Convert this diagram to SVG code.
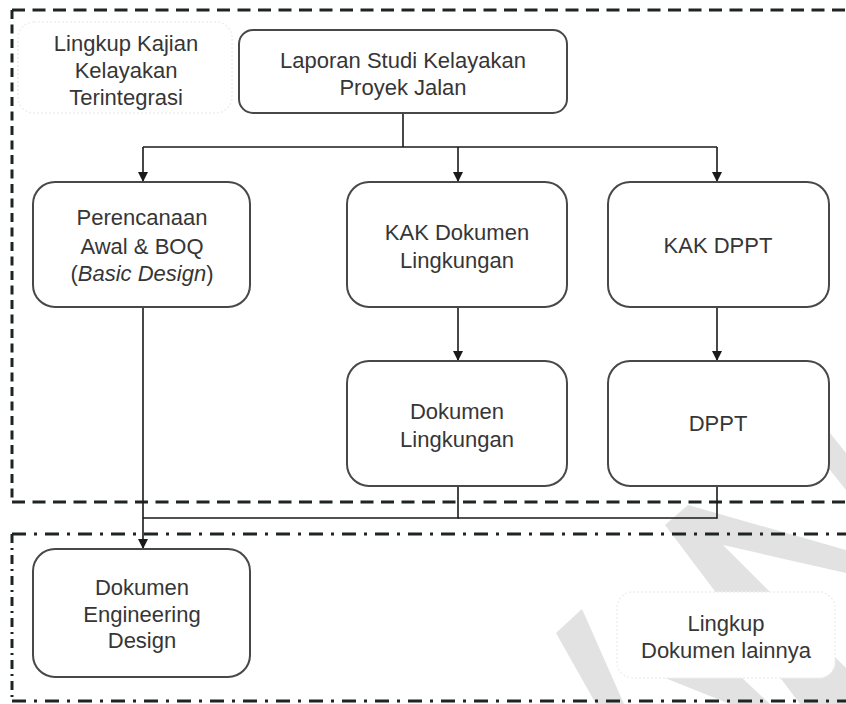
<svg xmlns="http://www.w3.org/2000/svg" width="846" height="704" viewBox="0 0 846 704">
  <defs>
    <marker id="arrow" viewBox="0 0 10 10" refX="10" refY="5" markerWidth="10" markerHeight="11" markerUnits="userSpaceOnUse" orient="auto">
      <path d="M0,0 L10,5 L0,10 z" fill="#1a1a1a"/>
    </marker>
  </defs>
  <style>
    .node rect { fill: #ffffff; stroke: #484848; stroke-width: 2; }
    .scope rect { fill: #ffffff; stroke: #efefef; stroke-width: 1.5; stroke-dasharray: 2 2; }
    text { font-family: "Liberation Sans", Arial, sans-serif; font-size: 22px; fill: #363636; text-anchor: middle; }
    .wire { fill: none; stroke: #1a1a1a; stroke-width: 1.6; }
    .dash { fill: none; stroke: #1e2424; stroke-width: 3; }
    .wm { fill: #e2e2e2; }
  </style>

  <rect width="846" height="704" fill="#ffffff"/>

  <!-- background mark -->
  <g id="mark">
    <polygon class="wm" points="665,525 688,505 846,550 846,573 723,545 846,668 846,704 800,704"/>
    <polygon class="wm" points="790,383 846,453 846,490 790,420"/>
    <polygon class="wm" points="556,633 582,609 624,704 596,704"/>
    <polygon class="wm" points="660,676 740,676 770,704 730,704"/>
  </g>

  <!-- scope frames -->
  <g id="frames">
    <line class="dash" x1="12" y1="10" x2="846" y2="10" stroke-dasharray="13 7.5"/>
    <line class="dash" x1="12" y1="502" x2="846" y2="502" stroke-dasharray="13 7.5"/>
    <line class="dash" x1="12" y1="10" x2="12" y2="502" stroke-dasharray="9 5.5"/>
    <line class="dash" x1="12" y1="534" x2="846" y2="534" stroke-dasharray="14 8 3 8"/>
    <line class="dash" x1="12" y1="701" x2="846" y2="701" stroke-dasharray="14 8 3 8"/>
    <line class="dash" x1="12" y1="534" x2="12" y2="701" stroke-dasharray="9 5 2 5"/>
  </g>

  <!-- connectors -->
  <g id="connectors">
    <path class="wire" d="M403,113 V147"/>
    <path class="wire" d="M143,147 H717"/>
    <path class="wire" d="M143,147 V182" marker-end="url(#arrow)"/>
    <path class="wire" d="M458,147 V182" marker-end="url(#arrow)"/>
    <path class="wire" d="M717,147 V182" marker-end="url(#arrow)"/>
    <path class="wire" d="M458,307 V361" marker-end="url(#arrow)"/>
    <path class="wire" d="M717,307 V361" marker-end="url(#arrow)"/>
    <path class="wire" d="M458,486 V518 H143"/>
    <path class="wire" d="M717,486 V518 H458"/>
    <path class="wire" d="M143,307 V549" marker-end="url(#arrow)"/>
  </g>

  <!-- scope labels -->
  <g id="scope-feasibility" class="scope">
    <rect x="18" y="22" width="214" height="91" rx="16"/>
    <text x="126" y="51">Lingkup Kajian</text>
    <text x="126" y="78">Kelayakan</text>
    <text x="126" y="105">Terintegrasi</text>
  </g>
  <g id="scope-other" class="scope">
    <rect x="617" y="592" width="218" height="86" rx="16"/>
    <text x="726" y="631">Lingkup</text>
    <text x="726" y="658">Dokumen lainnya</text>
  </g>

  <!-- nodes -->
  <g id="laporan" class="node">
    <rect x="239" y="30" width="328" height="83" rx="14"/>
    <text x="403" y="68">Laporan Studi Kelayakan</text>
    <text x="403" y="95">Proyek Jalan</text>
  </g>
  <g id="basic-design" class="node">
    <rect x="33" y="182" width="217" height="125" rx="22"/>
    <text x="142" y="225">Perencanaan</text>
    <text x="142" y="254">Awal &amp; BOQ</text>
    <text x="142" y="281">(<tspan font-style="italic">Basic Design</tspan>)</text>
  </g>
  <g id="kak-lingkungan" class="node">
    <rect x="347" y="182" width="220" height="125" rx="22"/>
    <text x="457" y="240">KAK Dokumen</text>
    <text x="457" y="268">Lingkungan</text>
  </g>
  <g id="kak-dppt" class="node">
    <rect x="608" y="182" width="221" height="125" rx="22"/>
    <text x="718" y="253">KAK DPPT</text>
  </g>
  <g id="dokumen-lingkungan" class="node">
    <rect x="347" y="361" width="220" height="125" rx="22"/>
    <text x="457" y="419">Dokumen</text>
    <text x="457" y="447">Lingkungan</text>
  </g>
  <g id="dppt" class="node">
    <rect x="608" y="361" width="221" height="125" rx="22"/>
    <text x="718" y="431">DPPT</text>
  </g>
  <g id="engineering-design" class="node">
    <rect x="33" y="549" width="217" height="128" rx="22"/>
    <text x="142" y="595">Dokumen</text>
    <text x="142" y="622">Engineering</text>
    <text x="142" y="648">Design</text>
  </g>
</svg>
